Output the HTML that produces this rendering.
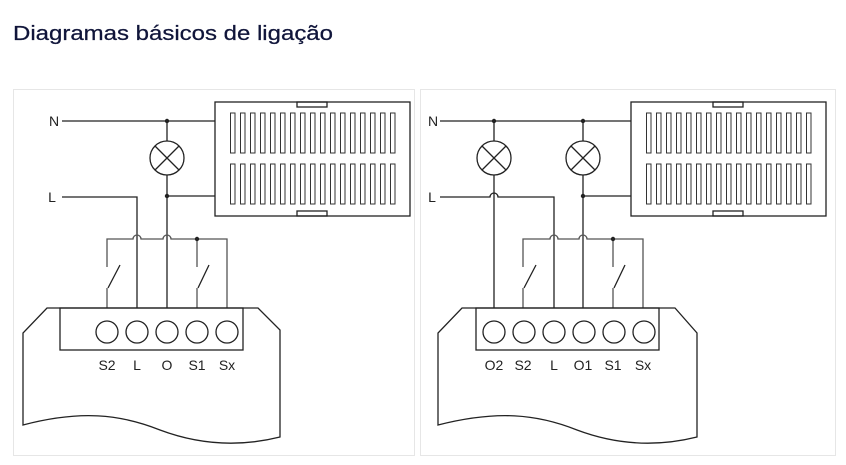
<!DOCTYPE html>
<html><head><meta charset="utf-8"><style>
html,body{margin:0;padding:0;background:#fff;}
svg{display:block;}
</style></head><body>
<svg width="846" height="465" viewBox="0 0 846 465" xmlns="http://www.w3.org/2000/svg">
<defs>
<pattern id="pa" x="230" y="0" width="10" height="465" patternUnits="userSpaceOnUse">
<rect x="0.5" y="113" width="4.5" height="40" fill="none" stroke="#333" stroke-width="1"/>
<rect x="0.5" y="164" width="4.5" height="40" fill="none" stroke="#333" stroke-width="1"/>
</pattern>
<pattern id="pb" x="646" y="0" width="10" height="465" patternUnits="userSpaceOnUse">
<rect x="0.5" y="113" width="4.5" height="40" fill="none" stroke="#333" stroke-width="1"/>
<rect x="0.5" y="164" width="4.5" height="40" fill="none" stroke="#333" stroke-width="1"/>
</pattern>
</defs>
<text x="13" y="40" font-family="Liberation Sans, sans-serif" font-size="20" fill="#10153a" stroke="#10153a" stroke-width="0.25" textLength="320" lengthAdjust="spacingAndGlyphs">Diagramas básicos de ligação</text>
<rect x="13.5" y="89.5" width="401" height="366" fill="none" stroke="#e6e6e6"/>
<rect x="420.5" y="89.5" width="415" height="366" fill="none" stroke="#e6e6e6"/>

<g fill="none" stroke="#222" stroke-width="1.3">
<!-- LEFT -->
<path d="M62 121H215"/>
<path d="M167 121V141M167 175V308M167 196H215"/>
<circle cx="167" cy="158" r="17"/>
<path d="M155 146L179 170M179 146L155 170"/>
<rect x="215" y="102" width="195" height="114" fill="#fff"/>
<rect x="297" y="102" width="30" height="5"/>
<rect x="297" y="211" width="30" height="5"/>
<rect x="230" y="110" width="170" height="98" fill="url(#pa)" stroke="none"/>
<path d="M62 197H137V308"/>
<path d="M107 267V239H133A4 4 0 0 1 141 239H163A4 4 0 0 1 171 239H227V308M197 239V267M107 288V308M197 288V308" stroke="#555"/>
<path d="M108 288L120 265M198 288L209 265"/>
<path d="M23 425V333L47 308H258L280 330V437C240 447 200 445 160 430C120 414 80 410 23 425Z" fill="#fff"/>
<rect x="60" y="308" width="183" height="42"/>
<circle cx="107" cy="332" r="11"/><circle cx="137" cy="332" r="11"/><circle cx="167" cy="332" r="11"/><circle cx="197" cy="332" r="11"/><circle cx="227" cy="332" r="11"/>
<!-- RIGHT -->
<path d="M440 121H631"/>
<path d="M494 121V141M583 121V141"/>
<circle cx="494" cy="158" r="17"/><circle cx="583" cy="158" r="17"/>
<path d="M482 146L506 170M506 146L482 170M571 146L595 170M595 146L571 170"/>
<path d="M494 175V308M583 175V308M583 196H631"/>
<path d="M440 197H490A4 4 0 0 1 498 197H554V308"/>
<rect x="631" y="102" width="195" height="114" fill="#fff"/>
<rect x="713" y="102" width="30" height="5"/>
<rect x="713" y="211" width="30" height="5"/>
<rect x="646" y="110" width="170" height="98" fill="url(#pb)" stroke="none"/>
<path d="M523 267V239H550A4 4 0 0 1 558 239H579A4 4 0 0 1 587 239H643V308M613 239V267M523 288V308M613 288V308" stroke="#555"/>
<path d="M524 288L536 265M614 288L625 265"/>
<path d="M438 425V333L462 308H675L697 333V437C657 447 617 445 577 430C537 414 497 410 438 425Z" fill="#fff"/>
<rect x="476" y="308" width="183" height="42"/>
<circle cx="494" cy="332" r="11"/><circle cx="524" cy="332" r="11"/><circle cx="554" cy="332" r="11"/><circle cx="584" cy="332" r="11"/><circle cx="614" cy="332" r="11"/><circle cx="644" cy="332" r="11"/>
</g>
<g fill="#222">
<circle cx="167" cy="121" r="2.2"/><circle cx="167" cy="196" r="2.2"/><circle cx="197" cy="239" r="2.2"/>
<circle cx="494" cy="121" r="2.2"/><circle cx="583" cy="121" r="2.2"/><circle cx="583" cy="196" r="2.2"/><circle cx="613" cy="239" r="2.2"/>
</g>
<g font-family="Liberation Sans Narrow, Liberation Sans, sans-serif" font-size="14" fill="#222" text-anchor="middle">
<text x="54" y="126">N</text><text x="52" y="202">L</text>
<text x="433" y="126">N</text><text x="432" y="202">L</text>
<text x="107" y="370">S2</text><text x="137" y="370">L</text><text x="167" y="370">O</text><text x="197" y="370">S1</text><text x="227" y="370">Sx</text>
<text x="494" y="370">O2</text><text x="523" y="370">S2</text><text x="554" y="370">L</text><text x="583" y="370">O1</text><text x="613" y="370">S1</text><text x="643" y="370">Sx</text>
</g>
</svg>
</body></html>
